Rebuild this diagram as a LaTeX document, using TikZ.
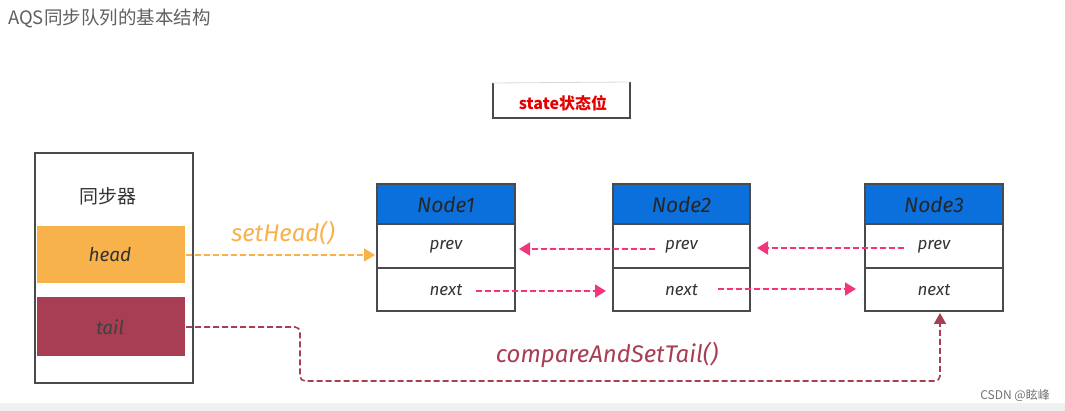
\documentclass[tikz,border=0pt]{standalone}
\usepackage{fontspec}
\setmainfont{Liberation Sans}
\newfontfamily\cjk{Noto Sans CJK SC}
\newfontfamily\hand{Fira Sans}
\usetikzlibrary{arrows.meta}
\definecolor{hblue}{HTML}{0B6FDC}
\definecolor{horange}{HTML}{F8B24C}
\definecolor{hcrim}{HTML}{A83E54}
\definecolor{hpink}{HTML}{F2367E}
\definecolor{hgray}{HTML}{606060}
\definecolor{hline}{HTML}{4A4A4A}
\tikzset{
  box/.style={draw=hline, line width=1.1pt},
  lbl/.style={font=\hand\itshape\fontsize{17}{17}\selectfont, text=black!80},
  big/.style={font=\hand\itshape\fontsize{21}{21}\selectfont, text=black!85},
  dasharrow/.style={line width=1.8pt, dash pattern=on 6pt off 3pt, -{Triangle[length=11pt,width=13pt]}},
  pinkarrow/.style={dasharrow, draw=hpink},
}
\begin{document}
\begin{tikzpicture}[x=1pt,y=-1pt]
\useasboundingbox (0,0) rectangle (1065,411);
\fill[white] (0,0) rectangle (1065,411);
\fill[black!6] (0,403) rectangle (1065,411);
% title
\node[anchor=west, text=hgray, font=\cjk\fontsize{18.5}{18.5}\selectfont, inner sep=0] (title) at (8,18) {AQS同步队列的基本结构};
\node[anchor=east, text=black!55, font=\cjk\fontsize{12}{12}\selectfont, inner sep=0] (csdn) at (1050,395) {CSDN @眩峰};
% state
\node[text=red!90!black, font=\cjk\bfseries\fontsize{16}{16}\selectfont] (state) at (563,103) {state状态位};
\draw[hline, line width=1.1pt] (493,83) -- (493,118) -- (630,118) -- (630,82);
\draw[black!15, line width=0.8pt] (493,83) -- (630,82);
% sync box
\draw[box] (35,153) rectangle (193,383);
\node[font=\cjk\fontsize{19}{19}\selectfont, text=black!80] (sync) at (108,196) {同步器};
\fill[horange] (37,226) rectangle (185,283);
\node[lbl, font=\hand\itshape\fontsize{19}{19}\selectfont] (head) at (110,255) {head};
\fill[hcrim] (37,297) rectangle (185,356);
\node[lbl, font=\hand\itshape\fontsize{19}{19}\selectfont, text=black!75] (tail) at (110,327) {tail};
\coordinate (headR) at (186,255);
\coordinate (tailR) at (186,327);
% nodes
\foreach \n/\x/\w in {1/377/138, 2/613/137, 3/865/138}{
  \fill[hblue] (\x,184) rectangle ++(\w,40);
  \draw[box] (\x,184) rectangle ++(\w,127);
  \draw[box] (\x,224) -- ++(\w,0);
  \draw[box] (\x,268) -- ++(\w,0);
  \node[big] (N\n) at (\x+\w/2,205) {Node\n};
  \node[lbl] (P\n) at (\x+\w/2,247) {prev};
  \node[lbl] (X\n) at (\x+\w/2,290) {next};
}
% setHead
\draw[dasharrow, draw=horange, fill=horange] (headR) -- (375,255);
\node[font=\hand\itshape\fontsize{24}{24}\selectfont, text=horange] (sh) at (283,233) {setHead()};
% pink arrows
\draw[pinkarrow, fill=hpink] (655,249) -- (519,249);
\draw[pinkarrow, fill=hpink] (476,291) -- (606,291);
\draw[pinkarrow, fill=hpink] (904,248) -- (757,248);
\draw[pinkarrow, fill=hpink] (718,289) -- (856,289);
% tail arrow
\coordinate (c1) at (300,327);
\coordinate (c2) at (300,381);
\coordinate (c3) at (940,381);
\coordinate (t3) at (940,313);
\draw[dasharrow, line width=1.6pt, draw=hcrim, rounded corners=5pt, -{Triangle[length=11pt,width=12pt,fill=hcrim]}] (tailR) -- (c1) -- (c2) -- (c3) -- (t3);
\node[font=\hand\itshape\fontsize{24}{24}\selectfont, text=hcrim] (cas) at (607,355) {compareAndSetTail()};
\end{tikzpicture}
\end{document}
